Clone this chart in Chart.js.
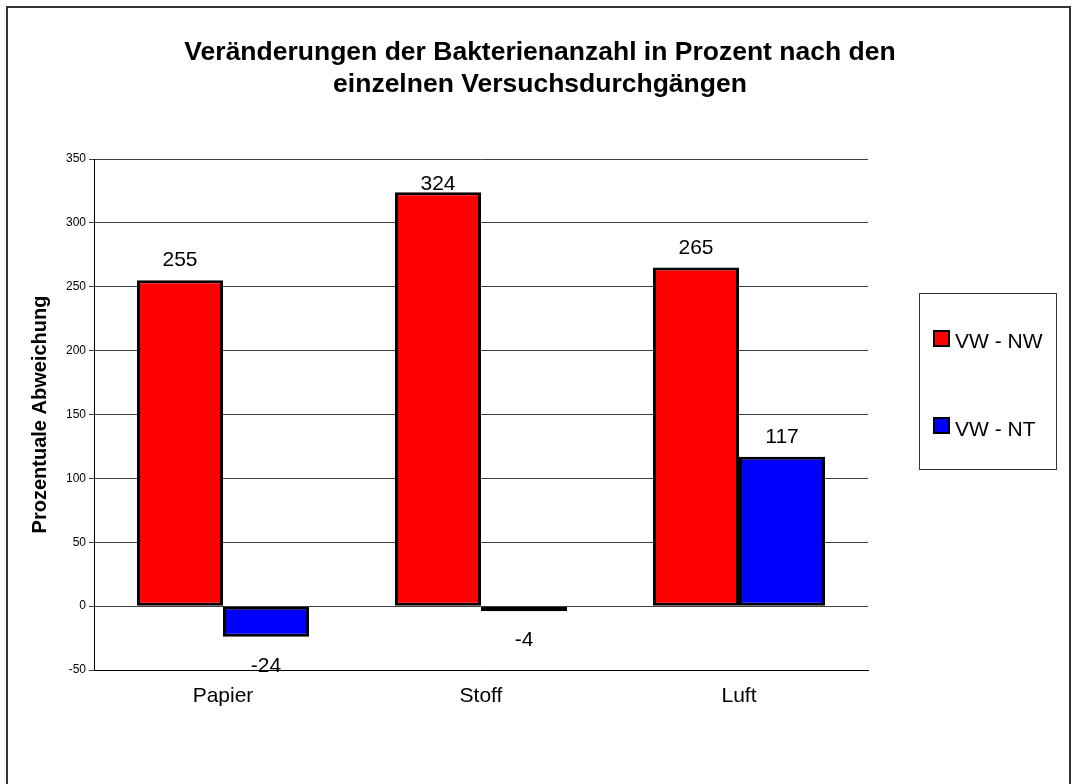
<!DOCTYPE html>
<html>
<head>
<meta charset="utf-8">
<script src="https://cdn.jsdelivr.net/npm/chart.js@4.4.0/dist/chart.umd.min.js"></script>
<style>
  body { margin: 0; background: #fff; }
  #grafico { display: block; }
</style>
</head>
<body>
<canvas id="grafico" width="1072" height="784"></canvas>
<script>
// Datos
const categorias = ['Papier', 'Stoff', 'Luft'];
const serieNW = [255, 324, 265];
const serieNT = [-24, -4, 117];
const nombresSeries = ['VW - NW', 'VW - NT'];
const coloresSeries = ['#FF0000', '#0000FF'];
const ejeMin = -50;
const ejeMax = 350;
const ejePaso = 50;
const tituloLineas = ['Veränderungen der Bakterienanzahl in Prozent nach den', 'einzelnen Versuchsdurchgängen'];
const tituloEje = 'Prozentuale Abweichung';

const FUENTE = '"Liberation Sans", Arial, sans-serif';

// Marco exterior, título y leyenda
const marcoPlugin = {
  id: 'marco',
  afterDraw(chart) {
    const ctx = chart.ctx;
    ctx.save();
    ctx.strokeStyle = '#333';
    ctx.lineWidth = 2;
    ctx.strokeRect(7, 7, 1063, 820);

    ctx.fillStyle = '#000';
    ctx.font = 'bold 26.5px ' + FUENTE;
    ctx.textAlign = 'center';
    ctx.textBaseline = 'alphabetic';
    ctx.fillText(tituloLineas[0], 540, 60);
    ctx.fillText(tituloLineas[1], 540, 92);

    // leyenda
    ctx.lineWidth = 1;
    ctx.strokeStyle = '#333';
    ctx.strokeRect(919.5, 293.5, 137, 176);
    ctx.font = '21px ' + FUENTE;
    ctx.textAlign = 'left';
    chart.data.datasets.forEach((ds, i) => {
      const y = 331 + i * 87;
      ctx.fillStyle = ds.backgroundColor;
      ctx.fillRect(934, y, 15, 15);
      ctx.strokeStyle = '#000';
      ctx.lineWidth = 2;
      ctx.strokeRect(934, y, 15, 15);
      ctx.fillStyle = '#000';
      ctx.fillText(ds.label, 955, y + 17 + i);
    });
    ctx.restore();
  }
};

// Etiquetas de valores
const etiquetasPlugin = {
  id: 'etiquetas',
  afterDatasetsDraw(chart) {
    const ctx = chart.ctx;
    const arriba = chart.chartArea.top;
    ctx.save();
    ctx.font = '21px ' + FUENTE;
    ctx.fillStyle = '#000';
    ctx.textAlign = 'center';
    ctx.textBaseline = 'alphabetic';
    chart.data.datasets.forEach((ds, i) => {
      chart.getDatasetMeta(i).data.forEach((barra, j) => {
        const v = ds.data[j];
        let y;
        if (v >= 0) y = Math.max(barra.y - 14, arriba + 31);
        else y = barra.y + 35;
        ctx.fillText(String(v), barra.x, y);
      });
    });
    ctx.restore();
  }
};

new Chart(document.getElementById('grafico'), {
  type: 'bar',
  data: {
    labels: categorias,
    datasets: [
      { label: nombresSeries[0], data: serieNW, backgroundColor: coloresSeries[0] },
      { label: nombresSeries[1], data: serieNT, backgroundColor: coloresSeries[1] }
    ]
  },
  options: {
    responsive: false,
    animation: false,
    layout: { padding: { top: 159, right: 204, bottom: 74, left: 0 } },
    datasets: {
      bar: {
        borderColor: '#000',
        borderWidth: 3,
        borderSkipped: false,
        categoryPercentage: 0.667,
        barPercentage: 1
      }
    },
    plugins: {
      legend: { display: false },
      title: { display: false },
      tooltip: { enabled: false }
    },
    scales: {
      x: {
        grid: { display: false },
        border: { display: true, color: '#000', width: 1 },
        ticks: { color: '#000', font: { family: FUENTE, size: 21 }, padding: 6 },
        afterFit(scale) { scale.height = 40; }
      },
      y: {
        min: ejeMin,
        max: ejeMax,
        ticks: { stepSize: ejePaso, color: '#000', font: { family: FUENTE, size: 12 }, padding: 3 },
        grid: { color: '#404040', lineWidth: 1, tickLength: 5 },
        border: { display: true, color: '#000', width: 1 },
        title: {
          display: true,
          text: tituloEje,
          color: '#000',
          font: { family: FUENTE, size: 20, weight: 'bold' },
          padding: { top: 28, bottom: 0 }
        },
        afterFit(scale) { scale.width = 94; }
      }
    }
  },
  plugins: [marcoPlugin, etiquetasPlugin]
});
</script>
</body>
</html>
